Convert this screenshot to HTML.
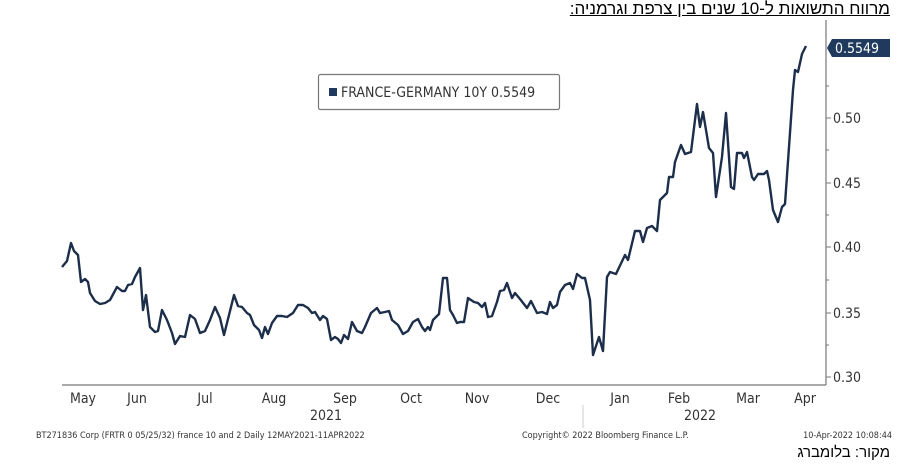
<!DOCTYPE html><html><head><meta charset="utf-8"><style>
body{margin:0;background:#fff;width:898px;height:465px;overflow:hidden;font-family:"Liberation Sans","DejaVu Sans",sans-serif;position:relative}
.heb{position:absolute;right:8px;direction:rtl;white-space:nowrap;color:#000;font-family:"Liberation Sans","DejaVu Sans",sans-serif}
</style></head><body>
<svg width="898" height="465" xmlns="http://www.w3.org/2000/svg" style="position:absolute;left:0;top:0">
<g stroke="#777" stroke-width="1.2" fill="none">
<line x1="826" y1="20" x2="826" y2="385"/>
<line x1="62" y1="385" x2="826" y2="385"/>
</g>
<g stroke="#777" stroke-width="1">
<line x1="826" y1="118" x2="831" y2="118"/><line x1="826" y1="183" x2="831" y2="183"/><line x1="826" y1="247" x2="831" y2="247"/><line x1="826" y1="313" x2="831" y2="313"/><line x1="826" y1="377" x2="831" y2="377"/>
<line x1="826" y1="86" x2="829" y2="86"/><line x1="826" y1="150" x2="829" y2="150"/><line x1="826" y1="215" x2="829" y2="215"/><line x1="826" y1="280" x2="829" y2="280"/><line x1="826" y1="345" x2="829" y2="345"/>
<line x1="583" y1="405" x2="583" y2="428" stroke="#ccc"/>
</g>
<g font-size="14" fill="#333" font-family="DejaVu Sans Condensed, DejaVu Sans, sans-serif">
<text x="833" y="123">0.50</text><text x="833" y="188">0.45</text><text x="833" y="252">0.40</text><text x="833" y="318">0.35</text><text x="833" y="382">0.30</text>
</g>
<path d="M827,48 L832,39 L890,39 L890,57 L832,57 Z" fill="#1f3a5c"/>
<text x="835" y="53" font-size="14" fill="#fff" font-family="DejaVu Sans Condensed, DejaVu Sans, sans-serif">0.5549</text>
<g font-size="14" fill="#333" font-family="DejaVu Sans Condensed, DejaVu Sans, sans-serif" text-anchor="middle">
<text x="83" y="403">May</text><text x="137" y="403">Jun</text><text x="205" y="403">Jul</text><text x="274" y="403">Aug</text><text x="345" y="403">Sep</text><text x="411" y="403">Oct</text><text x="477" y="403">Nov</text><text x="548" y="403">Dec</text><text x="620" y="403">Jan</text><text x="679" y="403">Feb</text><text x="748" y="403">Mar</text><text x="805" y="403">Apr</text>
<text x="326" y="420">2021</text><text x="700" y="420">2022</text>
</g>
<g font-size="9" fill="#333" font-family="DejaVu Sans Condensed, DejaVu Sans, sans-serif">
<text x="36" y="438">BT271836 Corp (FRTR 0 05/25/32) france 10 and 2  Daily 12MAY2021-11APR2022</text>
<text x="522" y="438">Copyright© 2022 Bloomberg Finance L.P.</text>
<text x="892" y="438" text-anchor="end">10-Apr-2022 10:08:44</text>
</g>
<rect x="318.5" y="74.5" width="241" height="35" rx="2" fill="#fff" stroke="#777" stroke-width="1.2"/>
<rect x="329" y="88" width="8" height="8" fill="#1f3a5c"/>
<text x="341" y="97" font-size="14" fill="#333" font-family="DejaVu Sans Condensed, DejaVu Sans, sans-serif">FRANCE-GERMANY 10Y 0.5549</text>
<polyline fill="none" stroke="#1c2e4a" stroke-width="2.4" stroke-linejoin="round" points="62,267 67,261 71,243 74,251 78,255 81,282 85,279 88,282 90,293 95,301 100,304 105,303 110,300 117,287 122,291 125,291 128,285 132,284 135,277 140,268 143,310 146,295 150,327 155,332 158,331 162,310 167,320 172,333 175,344 180,336 185,337 190,315 195,319 200,333 205,331 210,320 215,307 220,318 224,335 229,315 234,295 238,306 242,307 247,313 250,315 254,325 259,330 262,338 265,327 268,334 272,323 277,316 282,316 287,317 293,313 298,305 303,305 308,308 312,313 315,312 320,320 323,316 327,319 331,340 335,337 338,339 341,343 344,335 348,339 352,322 357,331 362,333 365,327 371,313 377,308 380,313 385,312 389,311 392,320 398,325 403,334 408,331 413,322 418,319 422,327 425,331 428,327 430,330 433,320 439,314 443,278 447,278 450,310 453,315 457,323 460,322 464,322 468,298 474,302 478,303 482,307 485,303 488,317 492,316 497,302 500,291 504,290 507,283 512,298 515,293 520,299 527,308 531,301 537,313 542,312 547,314 550,302 553,308 557,305 560,292 565,285 570,283 573,289 577,274 582,278 585,278 590,300 593,355 599,337 603,351 607,277 610,272 616,274 625,255 628,260 635,231 640,231 643,242 647,228 652,226 657,231 660,200 667,193 669,177 673,177 675,162 681,145 685,154 691,152 697,104 700,127 703,112 709,148 713,153 716,197 722,157 726,113 731,187 734,189 737,153 742,153 744,158 747,152 752,177 754,180 758,174 764,174 767,171 769,180 773,210 778,222 782,207 785,204 793,90 795,70 798,72 802,54 806,46"/>
</svg>
<div class="heb" style="top:0;font-size:17px;text-decoration:underline;line-height:18px">מרווח התשואות ל-10 שנים בין צרפת וגרמניה:</div>
<div class="heb" style="top:444px;font-size:15px;line-height:17px">מקור: בלומברג</div>
</body></html>
